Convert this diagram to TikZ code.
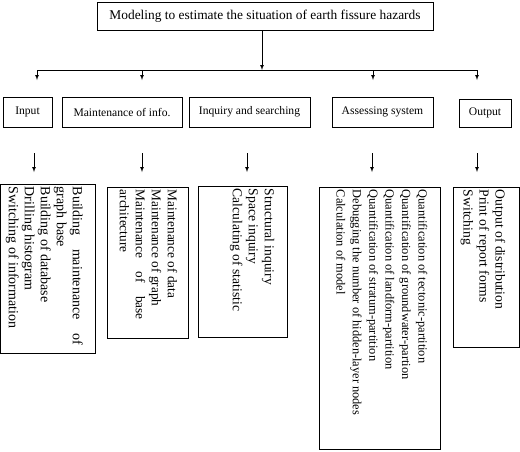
\documentclass[tikz,border=0pt]{standalone}
\usepackage{fontspec}
\setmainfont{Liberation Serif}
\hyphenpenalty=10000
\exhyphenpenalty=10000
\begin{document}
\begin{tikzpicture}[x=1pt,y=-1pt,
  box/.style={draw,line width=0.9pt,inner sep=0pt},
  list/.style={rotate=-90,anchor=north west,inner sep=0pt,align=justify},
  arr/.style={line width=0.7pt,-latex}]
\useasboundingbox (0,0) rectangle (520,451);
\node[box,minimum width=336,minimum height=28,font=\fontsize{13.4}{16}\selectfont] (title) at (265,16) {Modeling to estimate the situation of earth fissure hazards};
\coordinate (bus) at (262,70);
\coordinate (busl) at (37,70);
\coordinate (busr) at (477,70);
\draw[arr] (title.south -| bus) -- (bus);
\draw[line width=0.7pt] (busl) -- (busr);
\foreach \n/\x in {a/37,b/142,c/373,d/477}{
\coordinate (top\n) at (\x,70); \coordinate (end\n) at (\x,80);
\draw[arr] (top\n) -- (end\n);}
\node[box,minimum width=49,minimum height=30,font=\fontsize{11.6}{14}\selectfont] (input) at (27.5,112) {Input};
\node[box,minimum width=120,minimum height=30,font=\fontsize{11.6}{14}\selectfont] (maint) at (122,112) {Maintenance of info.};
\node[box,minimum width=121,minimum height=30,font=\fontsize{11.6}{14}\selectfont] (inquiry) at (249.5,112) {Inquiry and searching};
\node[box,minimum width=101,minimum height=30,font=\fontsize{11.6}{14}\selectfont] (assess) at (382.5,112) {Assessing system};
\node[box,minimum width=52,minimum height=28,font=\fontsize{11.6}{14}\selectfont] (output) at (485,113) {Output};
\foreach \n/\x in {a/34,b/142,c/247,d/372,e/477}{
\coordinate (s\n) at (\x,153); \coordinate (t\n) at (\x,172);
\draw[arr] (s\n) -- (t\n);}
\node[box,minimum width=95,minimum height=169] (inputlist) at (48,268.5) {};
\node[box,minimum width=81,minimum height=151] (maintlist) at (147.5,262.5) {};
\node[box,minimum width=89,minimum height=151] (inqlist) at (242.5,261.5) {};
\node[box,minimum width=121,minimum height=262] (assesslist) at (379.5,318) {};
\node[box,minimum width=66,minimum height=160] (outlist) at (486,267) {};
\node[list,text width=158,font=\fontsize{14}{16}\selectfont] (inputtext) at ([xshift=-13pt,yshift=-3pt]inputlist.north east)
  {Building maintenance of graph base\\Building of database\\Drilling histogram\\Switching of information};
\node[list,text width=130,font=\fontsize{13.3}{16}\selectfont] (mainttext) at ([xshift=-11pt,yshift=-3pt]maintlist.north east)
  {Maintenance of data\\Maintenance of graph\\Maintenance of base architecture};
\node[list,text width=140,font=\fontsize{13.6}{16}\selectfont] (inqtext) at ([xshift=-13pt,yshift=-3pt]inqlist.north east)
  {Structural inquiry\\Space inquiry\\Calculating of statistic};
\node[list,text width=250,font=\fontsize{12.4}{16.4}\selectfont] (assesstext) at ([xshift=-13pt,yshift=-3pt]assesslist.north east)
  {Quantification of tectonic-partition\\Quantification of groundwater-partion\\Quantification of landform-partition\\Quantification of stratum-partition\\Debugging the number of hidden-layer nodes\\Calculation of model};
\node[list,text width=150,font=\fontsize{13.7}{16}\selectfont] (outtext) at ([xshift=-14pt,yshift=-3pt]outlist.north east)
  {Output of distribution\\Print of report forms\\Switching};
\end{tikzpicture}
\end{document}
